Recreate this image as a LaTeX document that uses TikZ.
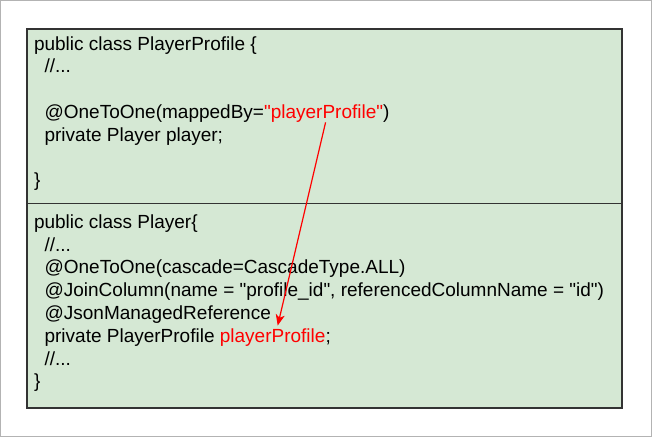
\documentclass[tikz,border=0pt]{standalone}
\usepackage{fontspec}
\setmainfont{Liberation Sans}
\newfontfamily\codefont{Liberation Sans}[Ligatures=ResetAll]
\usetikzlibrary{arrows.meta}
\definecolor{boxfill}{HTML}{D5E8D4}
\definecolor{boxline}{HTML}{333333}
\definecolor{codered}{HTML}{FF0000}
\definecolor{framegray}{HTML}{B3B3B3}
\begin{document}
\begin{tikzpicture}[x=1pt,y=-1pt,
  code/.style={anchor=base west,inner sep=0pt,outer sep=0pt,font=\codefont\fontsize{19}{22.8}\selectfont,text=black},
  redcode/.style={code,text=codered},
  classbox/.style={draw=boxline,fill=boxfill,line width=1.3pt,anchor=north west,minimum width=595pt,inner sep=0pt,outer sep=0pt},
  refarrow/.style={draw=codered,line width=1.2pt,-{Stealth[length=11pt,width=9pt,inset=3pt]}}]
\useasboundingbox (0,0) rectangle (653,437);
\draw[framegray,line width=1pt] (0.5,0.5) rectangle (651.5,436.5);
\node[classbox,minimum height=174.5pt] (topbox) at (27,29) {};
\node[classbox,minimum height=204.5pt] (botbox) at (27,203.5) {};
% top class
\node[code] (t1) at (34,50) {public class PlayerProfile \{};
\node[code] (t2) at (44.6,72.8) {//...};
\node[code] (t3) at (44.6,118.4) {@OneToOne(mappedBy=};
\node[redcode] (t3r) at (t3.base east) {"playerProfile"};
\node[code] (t3e) at (t3r.base east) {)};
\node[code] (t4) at (44.6,141.2) {private Player player;};
\node[code] (t5) at (34,186.8) {\}};
% bottom class
\node[code] (b1) at (34,228.3) {public class Player\{};
\node[code] (b2) at (44.6,251.1) {//...};
\node[code] (b3) at (44.6,273.9) {@OneToOne(cascade=CascadeType.ALL)};
\node[code] (b4) at (44.6,296.7) {@JoinColumn(name = "profile\_id", referencedColumnName = "id")};
\node[code] (b5) at (44.6,319.5) {@JsonManagedReference};
\node[code] (b6) at (44.6,342.3) {private PlayerProfile};
\node[redcode] (b6r) at ([xshift=5.28pt]b6.base east) {playerProfile};
\node[code] (b6e) at (b6r.base east) {;};
\node[code] (b7) at (44.6,365.1) {//...};
\node[code] (b8) at (34,387.9) {\}};
% reference arrow
\draw[refarrow] ([xshift=2pt]t3r.south) -- ([xshift=5pt,yshift=3pt]b6r.north);
\end{tikzpicture}
\end{document}
